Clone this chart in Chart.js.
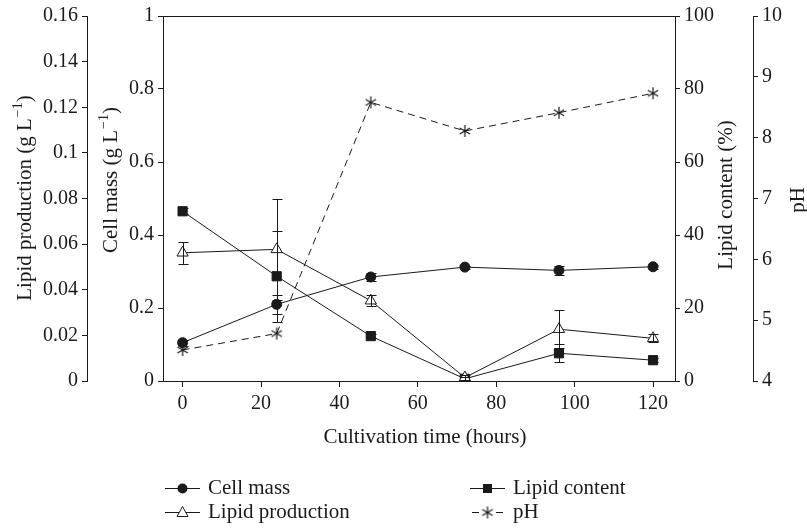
<!DOCTYPE html>
<html>
<head>
<meta charset="utf-8">
<script src="https://cdn.jsdelivr.net/npm/chart.js"></script>
<style>
html, body { margin: 0; padding: 0; background: #fff; }
</style>
</head>
<body>
<canvas id="myChart" width="807" height="529"></canvas>
<script>
// cultivation time (hours)
var hours = [0, 24, 48, 72, 96, 120];

// series values, with error bar half-widths
var cellMass = [0.105, 0.21, 0.285, 0.312, 0.303, 0.313];
var cellMassErr = [0.008, 0.026, 0.011, 0.004, 0.013, 0.005];
var lipidProduction = [0.0562, 0.0577, 0.0352, 0.0015, 0.0227, 0.0187];
var lipidProductionErr = [0.0049, 0.0222, 0.0024, 0.001, 0.0083, 0.0017];
var lipidContent = [46.5, 28.7, 12.3, 0.6, 7.6, 5.7];
var lipidContentErr = [0.8, 12.4, 0.6, 0.4, 2.5, 0.6];
var phValues = [4.51, 4.78, 8.58, 8.11, 8.41, 8.73];

// tick labels
var xTicks = [0, 20, 40, 60, 80, 100, 120];
var cellMassTicks = [0, 0.2, 0.4, 0.6, 0.8, 1];
var productionTicks = [0, 0.02, 0.04, 0.06, 0.08, 0.1, 0.12, 0.14, 0.16];
var contentTicks = [0, 20, 40, 60, 80, 100];
var phTicks = [4, 5, 6, 7, 8, 9, 10];

var FONT = '"Liberation Serif", "Times New Roman", serif';
var INK = '#1a1a1a';

function points(vals) {
    return vals.map(function (v, i) { return { x: hours[i], y: v }; });
}

// asterisk used for the pH marker
function makeStar() {
    var c = document.createElement('canvas');
    c.width = 14; c.height = 14;
    var g = c.getContext('2d');
    g.strokeStyle = INK;
    g.lineWidth = 1.2;
    g.beginPath();
    for (var k = 0; k < 3; k++) {
        var a = Math.PI / 2 + k * Math.PI / 3;
        g.moveTo(7 + 6 * Math.cos(a), 7 + 6 * Math.sin(a));
        g.lineTo(7 - 6 * Math.cos(a), 7 - 6 * Math.sin(a));
    }
    g.stroke();
    return c;
}
var starImg = makeStar();

function tickSetter(list) {
    return function (scale) {
        scale.ticks = list.map(function (v) { return { value: v }; });
    };
}
function fixWidth(w) {
    return function (scale) { scale.width = w; };
}
function fmt(v) {
    return String(Number(v.toFixed(3)));
}

function yAxis(pos, weight, min, max, list, width) {
    return {
        type: 'linear',
        position: pos,
        weight: weight,
        min: min,
        max: max,
        afterBuildTicks: tickSetter(list),
        afterFit: fixWidth(width),
        grid: { drawOnChartArea: false, tickLength: 5, color: INK },
        border: { color: INK, width: 1 },
        ticks: {
            color: INK,
            padding: 4,
            font: { family: FONT, size: 20 },
            callback: fmt
        }
    };
}

var errorBars = {
    id: 'errorBars',
    afterDatasetsDraw: function (chart) {
        var ctx = chart.ctx;
        var xs = chart.scales.x;
        chart.data.datasets.forEach(function (ds) {
            if (!ds.errors) return;
            var ys = chart.scales[ds.yAxisID];
            ctx.save();
            ctx.strokeStyle = INK;
            ctx.lineWidth = 1;
            ds.data.forEach(function (p, j) {
                var e = ds.errors[j];
                var px = Math.round(xs.getPixelForValue(p.x)) + 0.5;
                var top = Math.round(ys.getPixelForValue(p.y + e)) + 0.5;
                var bot = Math.round(ys.getPixelForValue(p.y - e)) + 0.5;
                ctx.beginPath();
                ctx.moveTo(px, top); ctx.lineTo(px, bot);
                ctx.moveTo(px - 5, top); ctx.lineTo(px + 5, top);
                ctx.moveTo(px - 5, bot); ctx.lineTo(px + 5, bot);
                ctx.stroke();
            });
            ctx.restore();
        });
    }
};

// draws "main (g L^-1)" style text with a superscript
function unitText(ctx, main, sup, tail, x, y, rot) {
    ctx.save();
    ctx.translate(x, y);
    if (rot) ctx.rotate(-Math.PI / 2);
    ctx.fillStyle = INK;
    ctx.textBaseline = 'middle';
    ctx.textAlign = 'left';
    var big = '21px ' + FONT, small = '14px ' + FONT;
    ctx.font = big;
    var w1 = ctx.measureText(main).width, w3 = ctx.measureText(tail).width;
    ctx.font = small;
    var w2 = sup ? ctx.measureText(sup).width + 1 : 0;
    var x0 = -(w1 + w2 + w3) / 2;
    ctx.font = big;
    ctx.fillText(main, x0, 0);
    if (sup) {
        ctx.font = small;
        ctx.fillText(sup, x0 + w1 + 1, -7);
    }
    ctx.font = big;
    ctx.fillText(tail, x0 + w1 + w2, 0);
    ctx.restore();
}

function legendMarker(ctx, style, x, y) {
    ctx.save();
    ctx.fillStyle = INK;
    ctx.strokeStyle = INK;
    ctx.lineWidth = 1;
    ctx.beginPath();
    if (style === 'circle') {
        ctx.arc(x, y, 5, 0, Math.PI * 2);
        ctx.fill();
    } else if (style === 'rect') {
        ctx.fillRect(x - 4.5, y - 4.5, 9, 9);
    } else if (style === 'triangle') {
        ctx.moveTo(x, y - 6);
        ctx.lineTo(x + 5.5, y + 4);
        ctx.lineTo(x - 5.5, y + 4);
        ctx.closePath();
        ctx.fillStyle = '#fff';
        ctx.fill();
        ctx.stroke();
    } else {
        ctx.drawImage(starImg, x - 7, y - 7);
    }
    ctx.restore();
}

var decorations = {
    id: 'decorations',
    afterDraw: function (chart) {
        var ctx = chart.ctx;
        var a = chart.chartArea;
        ctx.save();
        // frame top
        ctx.strokeStyle = INK;
        ctx.lineWidth = 1;
        ctx.beginPath();
        ctx.moveTo(a.left, Math.round(a.top) + 0.5);
        ctx.lineTo(a.right, Math.round(a.top) + 0.5);
        ctx.stroke();

        // axis titles
        unitText(ctx, 'Lipid production (g L', '\u22121', ')', 25, 198, true);
        unitText(ctx, 'Cell mass (g L', '\u22121', ')', 111, 180, true);
        unitText(ctx, 'Lipid content (%)', '', '', 726, 195, true);
        unitText(ctx, 'pH', '', '', 798, 200, true);
        unitText(ctx, 'Cultivation time (hours)', '', '', 425, 437, false);

        // legend, two columns
        var cols = [165, 470], rows = [488, 512];
        chart.data.datasets.forEach(function (ds, i) {
            var x0 = cols[Math.floor(i / 2)], y = rows[i % 2];
            ctx.strokeStyle = INK;
            ctx.lineWidth = 1;
            ctx.beginPath();
            if (ds.borderDash) {
                ctx.moveTo(x0 + 2, y + 0.5); ctx.lineTo(x0 + 9, y + 0.5);
                ctx.moveTo(x0 + 26, y + 0.5); ctx.lineTo(x0 + 33, y + 0.5);
            } else {
                ctx.moveTo(x0, y + 0.5); ctx.lineTo(x0 + 35, y + 0.5);
            }
            ctx.stroke();
            legendMarker(ctx, ds.legendStyle, x0 + 17.5, y + 0.5);
            ctx.fillStyle = INK;
            ctx.font = '21px ' + FONT;
            ctx.textBaseline = 'middle';
            ctx.textAlign = 'left';
            ctx.fillText(ds.label, x0 + 43, y);
        });
        ctx.restore();
    }
};

var ctx = document.getElementById('myChart').getContext('2d');
var myChart = new Chart(ctx, {
    type: 'line',
    data: {
        datasets: [{
            label: 'Cell mass',
            data: points(cellMass),
            errors: cellMassErr,
            yAxisID: 'yCell',
            borderColor: INK,
            borderWidth: 1,
            pointStyle: 'circle',
            pointRadius: 5,
            pointBackgroundColor: INK,
            pointBorderColor: INK,
            legendStyle: 'circle'
        }, {
            label: 'Lipid production',
            data: points(lipidProduction),
            errors: lipidProductionErr,
            yAxisID: 'yProd',
            borderColor: INK,
            borderWidth: 1,
            pointStyle: 'triangle',
            pointRadius: 6.5,
            pointBackgroundColor: '#fff',
            pointBorderColor: INK,
            pointBorderWidth: 1,
            legendStyle: 'triangle'
        }, {
            label: 'Lipid content',
            data: points(lipidContent),
            errors: lipidContentErr,
            yAxisID: 'yContent',
            borderColor: INK,
            borderWidth: 1,
            pointStyle: 'rect',
            pointRadius: 6.5,
            pointBackgroundColor: INK,
            pointBorderColor: INK,
            legendStyle: 'rect'
        }, {
            label: 'pH',
            data: points(phValues),
            yAxisID: 'yPH',
            borderColor: INK,
            borderWidth: 1,
            borderDash: [7, 5],
            pointStyle: starImg,
            legendStyle: 'star'
        }]
    },
    options: {
        responsive: false,
        animation: false,
        devicePixelRatio: 1,
        layout: { padding: { top: 15, left: 0, right: 0, bottom: 0 } },
        elements: { line: { tension: 0, fill: false } },
        plugins: {
            legend: { display: false },
            tooltip: { enabled: false }
        },
        scales: {
            x: {
                type: 'linear',
                position: 'bottom',
                min: -5,
                max: 125.6,
                afterBuildTicks: tickSetter(xTicks),
                afterFit: function (scale) { scale.height = 148; },
                grid: { drawOnChartArea: false, tickLength: 6, color: INK },
                border: { color: INK, width: 1 },
                ticks: {
                    color: INK,
                    padding: 5,
                    maxRotation: 0,
                    font: { family: FONT, size: 20 },
                    callback: fmt
                }
            },
            yCell: yAxis('left', 0, 0, 1, cellMassTicks, 76),
            yProd: yAxis('left', 1, 0, 0.16, productionTicks, 87),
            yContent: yAxis('right', 0, 0, 100, contentTicks, 78),
            yPH: yAxis('right', 1, 4, 10, phTicks, 54)
        }
    },
    plugins: [errorBars, decorations]
});
</script>
</body>
</html>
